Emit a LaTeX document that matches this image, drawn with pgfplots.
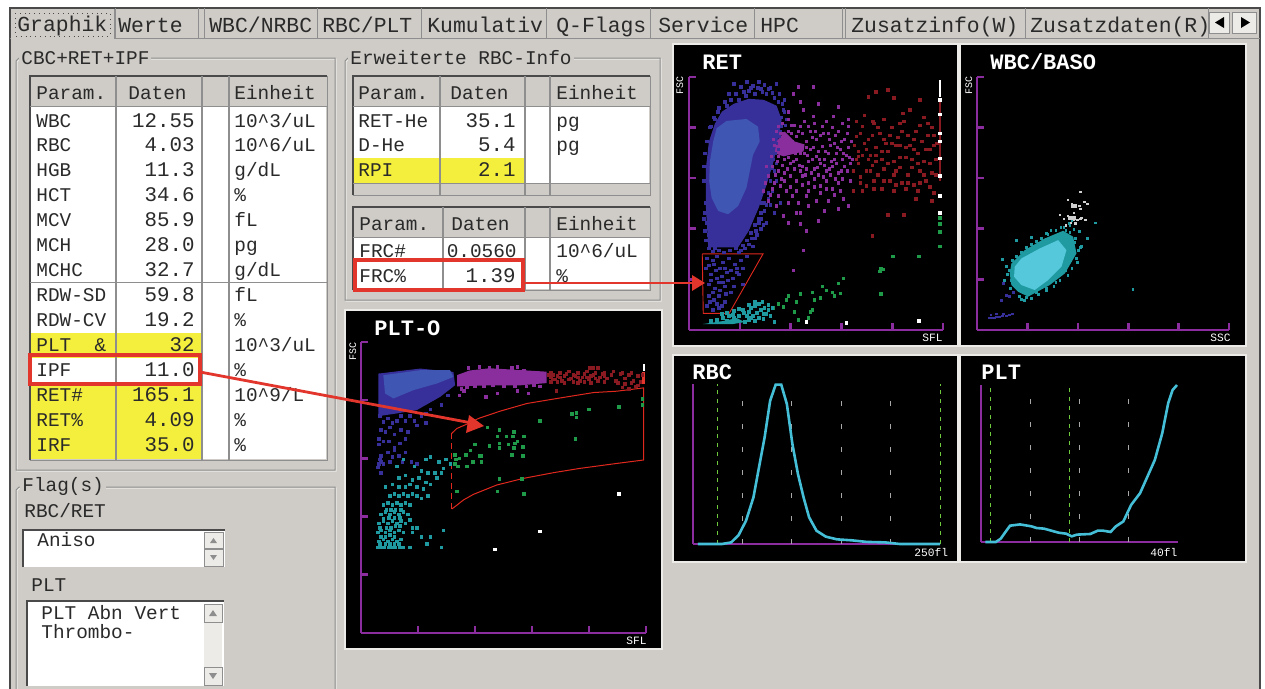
\documentclass[border=0pt]{standalone}
\usepackage{pgfplots}
\pgfplotsset{compat=1.18}
\usepackage{fontspec}
\setmainfont{Liberation Mono}
\definecolor{bg}{HTML}{CFCCC7}
\definecolor{frame}{HTML}{8E8E8E}
\definecolor{dk}{HTML}{4A4A4A}
\definecolor{lt}{HTML}{EDEBE8}
\definecolor{yel}{HTML}{F4EE3C}
\definecolor{rd}{HTML}{E2352C}
\definecolor{gate}{HTML}{E0281E}
\definecolor{purp}{HTML}{8B2D9F}
\definecolor{bl}{HTML}{3F56B2}
\definecolor{dbl}{HTML}{38309A}
\definecolor{mag}{HTML}{8A2E9E}
\definecolor{drd}{HTML}{8A1A22}
\definecolor{teal2}{HTML}{1F9AA0}
\definecolor{cy}{HTML}{55C8DC}
\definecolor{cyl}{HTML}{45BFD8}
\definecolor{grn}{HTML}{1F9A48}
\definecolor{lg}{HTML}{6FC93C}
\definecolor{dg}{HTML}{A8A8A8}
\definecolor{wg}{HTML}{D0D0D0}
\definecolor{txt}{HTML}{2A2A2A}
\newcommand\fs{\fontsize{9.7}{12}\selectfont}
\newcommand\T[3]{\node[anchor=base west,inner sep=0pt,text=txt] at (#1,#2) {\fs #3};}
\newcommand\Tt[3]{\node[anchor=base west,inner sep=0pt,text=txt] at (#1,#2) {\fontsize{10.7}{12}\selectfont #3};}
\newcommand\Tr[3]{\node[anchor=base east,inner sep=0pt,text=txt] at (#1,#2) {\fontsize{10.4}{12}\selectfont #3};}
\newcommand\W[3]{\node[anchor=base west,inner sep=0pt,text=white] at (#1,#2) {\fontsize{11}{12}\selectfont\bfseries #3};}
\newcommand\Sm[3]{\node[anchor=base west,inner sep=0pt,text=white] at (#1,#2) {\fontsize{5.6}{6}\selectfont #3};}
\newcommand\Bx[5]{\fill[#5] (#1,#2) rectangle (#3,#4);}
\newcommand\Tab[4]{\draw[frame,line width=.5pt] (#1,8) -- (#1,38) -- (#2,38) -- (#2,8);\Tt{#3}{32}{#4}}
\newcommand\Grp[5]{\draw[lt,line width=.5pt] (#1+4,#2+1) -- (#1+1,#2+4) -- (#1+1,#4+1) -- (#3+1,#4+1) -- (#3+1,#2+1) -- cycle;\draw[frame,line width=.5pt] (#1+3,#2) -- (#1,#2+3) -- (#1,#4) -- (#3,#4) -- (#3,#2) -- cycle;\node[anchor=west,inner sep=1pt,fill=bg,text=txt] at (#1+3,#2) {\fs #5};}
\newcommand\Hd[7]{%
 \Bx{#1}{#2}{#6}{#2+30}{bg}
 \draw[dk,line width=.6pt] (#1,#7) -- (#1,#2) -- (#6,#2);
 \draw[frame,line width=.5pt] (#6,#2) -- (#6,#7) -- (#1,#7);
 \draw[frame,line width=.6pt] (#3,#2) -- (#3,#7) (#4,#2) -- (#4,#7) (#5,#2) -- (#5,#7);
 \draw[frame,line width=.5pt] (#1,#2+30) -- (#6,#2+30);}
\pgfplotsset{
 root/.style={at={(0,0)},anchor=north west,scale only axis,width=632.5pt,height=344.5pt,xmin=0,xmax=1265,ymin=0,ymax=689,y dir=reverse,hide axis,clip=false},
 panel/.style={anchor=south west,scale only axis,axis lines=left,axis line style={purp,line width=1.3pt,-},
  xmin=0,xmax=255,ymin=0,ymax=255,xtick={51,102,153,204,255},ytick={51,102,153,204,255},
  xticklabels={},yticklabels={},tick style={purp,line width=1.3pt},major tick length=3.6pt,tick align=inside,clip=false},
 hist/.style={anchor=south west,scale only axis,axis lines=left,axis line style={purp,line width=1.2pt,-},
  ymin=0,ymax=100,xtick=\empty,ytick=\empty,clip=false},
 pts/.style={only marks,mark=square*,mark size=.64pt,color=#1,mark options={fill=#1,draw=#1,line width=0pt}},
 spts/.style={only marks,mark=square*,mark size=.42pt,color=#1,mark options={fill=#1,draw=#1,line width=0pt}},
 gr/.style={dg,line width=.5pt,dash pattern=on 2.5pt off 9pt},
 gn/.style={lg,line width=.4pt,dash pattern=on 2pt off 2.4pt},
}
\begin{document}
\begin{tikzpicture}
\path[use as bounding box] (0,0) rectangle (632.5pt,-344.5pt);
\begin{axis}[root]
% window
\Bx{0}{0}{1265}{689}{white}
\Bx{10}{8}{1260}{689}{bg}
\draw[dk,line width=.8pt] (10,689) -- (10,8) -- (1260,8) -- (1260,689);
% tabs
\draw[frame,line width=.5pt] (10,38) -- (1260,38);
\Tab{115}{198}{118}{Werte}
\Tab{204}{317}{209}{WBC/NRBC}
\Tab{317}{421}{322}{RBC/PLT}
\Tab{421}{546}{427}{Kumulativ}
\Tab{546}{650}{556}{Q-Flags}
\Tab{650}{754}{658}{Service}
\Tab{754}{842}{760}{HPC}
\Tab{845}{1025}{851}{Zusatzinfo(W)}
\Tab{1025}{1208}{1030}{Zusatzdaten(R)}
\Bx{11}{9}{114}{39}{bg}
\draw[dk,dotted,line width=.4pt] (15,13) rectangle (110,36);
\Tt{17}{31}{Graphik}
\draw[frame,line width=.5pt] (114,9) -- (114,38);
\Bx{1209}{12}{1229}{33}{lt}\Bx{1232}{12}{1256}{33}{lt}
\draw[frame,line width=.5pt] (1209,12) rectangle (1229,33) (1232,12) rectangle (1256,33);
\fill[black] (1224,17) -- (1224,28) -- (1215,22.5) -- cycle;
\fill[black] (1241,17) -- (1241,28) -- (1250,22.5) -- cycle;
% CBC group
\Grp{16}{58}{335}{470}{CBC+RET+IPF}
\Hd{30}{76}{116}{202}{229}{327}{460}
\Bx{31}{107}{326}{459}{white}
\Bx{31}{333}{202}{358}{yel}
\Bx{31}{383}{202}{459}{yel}
\draw[frame,line width=.6pt] (116,107) -- (116,460) (202,107) -- (202,460) (229,107) -- (229,460);
\draw[frame,line width=.5pt] (30,282) -- (327,282);
\T{36}{99}{Param.}\T{128}{99}{Daten}\T{234}{99}{Einheit}
\T{36}{127}{WBC}\Tr{195}{127}{12.55}\T{234}{127}{10\string^3/uL}
\T{36}{151}{RBC}\Tr{195}{151}{4.03}\T{234}{151}{10\string^6/uL}
\T{36}{176}{HGB}\Tr{195}{176}{11.3}\T{234}{176}{g/dL}
\T{36}{201}{HCT}\Tr{195}{201}{34.6}\T{234}{201}{\%}
\T{36}{226}{MCV}\Tr{195}{226}{85.9}\T{234}{226}{fL}
\T{36}{251}{MCH}\Tr{195}{251}{28.0}\T{234}{251}{pg}
\T{36}{276}{MCHC}\Tr{195}{276}{32.7}\T{234}{276}{g/dL}
\T{36}{301}{RDW-SD}\Tr{195}{301}{59.8}\T{234}{301}{fL}
\T{36}{326}{RDW-CV}\Tr{195}{326}{19.2}\T{234}{326}{\%}
\T{36}{351}{PLT\ \ \&}\Tr{195}{351}{32}\T{234}{351}{10\string^3/uL}
\T{36}{376}{IPF}\Tr{195}{376}{11.0}\T{234}{376}{\%}
\T{36}{401}{RET\#}\Tr{195}{401}{165.1}\T{234}{401}{10\string^9/L}
\T{36}{426}{RET\%}\Tr{195}{426}{4.09}\T{234}{426}{\%}
\T{36}{451}{IRF}\Tr{195}{451}{35.0}\T{234}{451}{\%}
% Erweiterte
\Grp{345}{58}{660}{300}{Erweiterte RBC-Info}
\Hd{353}{76}{440}{525}{550}{650}{195}
\Bx{354}{107}{649}{183}{white}
\Bx{354}{158}{525}{183}{yel}
\draw[frame,line width=.6pt] (440,107) -- (440,183) (525,107) -- (525,183) (550,107) -- (550,183);
\draw[frame,line width=.5pt] (353,183) -- (650,183);
\T{358}{99}{Param.}\T{450}{99}{Daten}\T{556}{99}{Einheit}
\T{358}{127}{RET-He}\Tr{516}{127}{35.1}\T{556}{127}{pg}
\T{358}{151}{D-He}\Tr{516}{151}{5.4}\T{556}{151}{pg}
\T{358}{176}{RPI}\Tr{516}{176}{2.1}
\Hd{353}{207}{443}{525}{550}{650}{290}
\Bx{354}{238}{649}{289}{white}
\draw[frame,line width=.6pt] (443,238) -- (443,289) (525,238) -- (525,289) (550,238) -- (550,289);
\T{359}{230}{Param.}\T{451}{230}{Daten}\T{556}{230}{Einheit}
\T{359}{257}{FRC\#}\node[anchor=base east,inner sep=0pt,text=txt] at (517,257) {\fs 0.0560};\T{556}{257}{10\string^6/uL}
\T{359}{282}{FRC\%}\Tr{516}{282}{1.39}\T{556}{282}{\%}
% Flags
\draw[lt,line width=.5pt] (336,689) -- (336,488) -- (20,488) -- (17,491) -- (17,689);
\draw[frame,line width=.5pt] (335,689) -- (335,487) -- (19,487) -- (16,490) -- (16,689);
\node[anchor=west,inner sep=1pt,fill=bg,text=txt] at (20,486) {\fs Flag(s)};
\T{24}{517}{RBC/RET}
\Bx{23}{530}{225}{567}{white}
\draw[dk,line width=.7pt] (23,567) -- (23,530) -- (225,530);
\Bx{204}{532}{223}{566}{lt}
\draw[frame,line width=.5pt] (204,532) rectangle (223,548) (204,549) rectangle (223,566);
\fill[frame] (210,543) -- (217,543) -- (213.5,538) -- cycle;
\fill[frame] (210,555) -- (217,555) -- (213.5,560) -- cycle;
\T{37}{546}{Aniso}
\T{31}{591}{PLT}
\Bx{27}{601}{224}{686}{white}
\draw[dk,line width=.7pt] (27,686) -- (27,601) -- (224,601);
\Bx{204}{604}{222}{685}{lt}
\draw[frame,line width=.5pt] (204,604) rectangle (222,622) (204,667) rectangle (222,685);
\fill[frame] (209,616) -- (217,616) -- (213,610) -- cycle;
\fill[frame] (209,673) -- (217,673) -- (213,679) -- cycle;
\T{41}{619}{PLT Abn Vert}
\T{41}{638}{Thrombo-}
% panels
\draw[lt,line width=.8pt,fill=black] (673,44) rectangle (958,346);
\draw[lt,line width=.8pt,fill=black] (960,44) rectangle (1246,346);
\draw[lt,line width=.8pt,fill=black] (345,310) rectangle (662,649);
\draw[lt,line width=.8pt,fill=black] (673,355) rectangle (958,562);
\draw[lt,line width=.8pt,fill=black] (960,355) rectangle (1246,562);
\W{702}{69}{RET}
\W{990}{69}{WBC/BASO}
\W{374}{335}{PLT-O}
\W{692}{379}{RBC}
\W{981}{379}{PLT}
\Sm{922}{341}{SFL}
\Sm{1210}{341}{SSC}
\Sm{626}{644}{SFL}
\Sm{914}{556}{250fl}
\Sm{1150}{556}{40fl}
\node[rotate=90,anchor=base east,inner sep=0pt,text=white] at (683,76) {\fontsize{5}{6}\selectfont FSC};
\node[rotate=90,anchor=base east,inner sep=0pt,text=white] at (972,76) {\fontsize{5}{6}\selectfont FSC};
\node[rotate=90,anchor=base east,inner sep=0pt,text=white] at (356,342) {\fontsize{5}{6}\selectfont FSC};
\end{axis}

% RET
\begin{axis}[panel,at={(344.5pt,-165pt)},width=127pt,height=126.5pt]
\addplot[fill=dbl,draw=none] coordinates {(19.3,83.3)(17,123.3)(17,163.3)(20,190)(26,208)(33,220)(45,228)(60,233)(75,232)(88,226)(93,212)(90,193)(85,170)(78,146.7)(70,123.3)(60,100)(49.3,83.3)} --cycle;
\addplot[fill=bl,draw=none] coordinates {(24.3,190)(27.7,203.3)(37.7,210.7)(57.7,212.7)(69.3,205)(71,190)(64.3,176.7)(61,160)(57.7,143.3)(49.3,125)(39.3,116.7)(29.3,120)(22.7,133.3)(20.3,150)(21,170)} --cycle;
\addplot[fill=mag,draw=none] coordinates {(86,178)(88,190)(96,200)(106,190)(116,187)(115,180)(95,175)} --cycle;
\addplot[fill=teal2,draw=none] coordinates {(14,6)(34,9)(48,12)(56,8)(44,6)} --cycle;
% blue sparse
\addplot[pts=dbl] coordinates {(45,248)(52,245)(58,250)(64,246)(70,250)(76,247)(82,244)(88,248)(60,241)(72,243)(91,238)(96,232)(95,222)(98,212)(40,238)(36,230)(30,224)(26,212)(22,205)(92,200)(90,182)(88,168)(86,160)(82,150)(80,138)(76,128)(72,118)(70,112)(66,106)(62,98)(58,90)(54,85)(18,108)(16,118)(20,96)(22,88)(26,82)(32,88)(38,85)(44,90)(50,78)(18,72)(24,70)(28,74)(34,68)(40,72)(46,66)(52,70)(58,74)(17,62)(22,56)(27,60)(33,54)(38,58)(44,52)(50,56)(20,46)(26,42)(30,48)(36,44)(42,38)(20,34)(25,30)(30,34)(36,28)(18,24)(24,20)(30,22)(72,102)(64,84)(66,92)(82,126)(86,118)(92,128)(78,108)(48,62)(54,46)(38,226)(42,232)(47,238)(50,232)(55,240)(57,236)(62,244)(66,238)(69,244)(74,240)(78,238)(80,243)(84,239)(86,234)(90,230)(94,228)(96,220)(93,214)(97,206)(93,205)(91,195)(88,188)(87,178)(85,172)(84,163)(17,128)(15,112)(16,100)(17,90)(20,82)(24,79)(30,80)(35,78)(41,80)(47,82)(52,80)(56,82)(60,86)(63,92)(67,100)(70,108)(73,112)(76,120)(78,126)(73,128)(15,150)(15,165)(16,178)(18,190)(21,204)(25,214)(29,220)(20,65)(25,66)(31,62)(36,62)(42,60)(48,58)(54,62)(22,50)(28,52)(34,48)(39,50)(45,44)(24,38)(31,40)(37,36)(21,28)(28,26)(33,24)(80,132)(84,140)(88,150)(75,106)(68,96)};
% magenta
\addplot[pts=mag] coordinates {(90,205)(95,198)(100,212)(108,195)(112,205)(118,190)(122,200)(128,192)(134,205)(140,198)(146,188)(150,200)(156,192)(160,205)(92,190)(98,185)(104,180)(110,186)(116,178)(122,182)(128,175)(134,185)(140,178)(146,172)(152,182)(158,176)(162,168)(90,175)(96,172)(102,168)(108,172)(114,165)(120,170)(126,162)(132,168)(138,160)(144,165)(150,158)(156,165)(84,165)(90,160)(96,158)(102,155)(108,150)(114,155)(120,148)(126,152)(132,145)(138,150)(144,142)(150,148)(80,155)(86,148)(92,145)(98,140)(104,135)(110,128)(118,135)(128,130)(140,130)(155,132)(75,140)(80,130)(88,125)(95,115)(100,108)(112,118)(130,110)(160,125)(105,238)(112,230)(110,245)(125,245)(130,228)(100,220)(115,222)(125,215)(145,215)(150,225)(160,212)(100,200)(106,206)(114,198)(126,208)(132,196)(138,210)(144,204)(154,208)(104,190)(112,178)(118,184)(124,194)(130,180)(136,172)(142,186)(148,178)(154,172)(160,184)(94,166)(100,174)(106,162)(112,160)(118,162)(124,172)(130,156)(136,166)(142,156)(148,168)(154,152)(105,60)(115,80)(112,107)(118,100)(88,200)(94,208)(103,206)(110,200)(116,210)(120,205)(127,200)(135,198)(141,192)(147,196)(153,190)(159,198)(163,190)(86,186)(89,170)(95,180)(101,186)(107,178)(113,186)(119,176)(125,184)(131,172)(137,180)(143,170)(149,184)(155,178)(161,174)(87,156)(93,152)(99,162)(105,170)(111,166)(117,156)(123,158)(129,164)(135,154)(141,162)(147,152)(153,160)(159,160)(164,172)(84,142)(90,135)(96,150)(102,144)(108,140)(114,146)(120,140)(126,144)(132,138)(138,142)(146,136)(152,140)(162,150)(77,148)(82,136)(100,128)(108,118)(120,125)(136,120)(150,122)(78,165)(83,175)(85,192)(92,198)(97,192)(103,198)};
% red
\addplot[pts=drd] coordinates {(168,195)(174,205)(180,192)(186,208)(192,198)(198,188)(204,204)(210,194)(216,210)(222,186)(228,200)(234,190)(240,208)(246,196)(170,180)(176,188)(182,176)(188,184)(194,172)(200,180)(206,170)(212,186)(218,174)(224,164)(230,178)(236,170)(242,182)(248,172)(170,168)(178,160)(184,166)(190,156)(196,162)(202,150)(208,160)(214,148)(220,156)(226,146)(232,160)(238,150)(244,158)(172,148)(178,145)(186,150)(194,142)(206,140)(218,142)(230,140)(246,138)(165,140)(180,235)(188,240)(200,242)(206,234)(232,232)(215,218)(222,222)(236,214)(196,212)(176,216)(170,175)(180,172)(204,188)(212,174)(226,192)(240,196)(246,186)(200,116)(216,116)(184,95)(165,160)(172,154)(188,170)(166,186)(172,198)(178,182)(184,196)(190,204)(196,192)(202,196)(208,186)(214,200)(220,196)(226,182)(232,206)(238,182)(244,204)(249,188)(168,172)(174,176)(182,160)(188,176)(194,180)(200,168)(206,156)(212,164)(218,184)(224,172)(230,168)(236,156)(242,168)(248,156)(174,140)(186,142)(196,150)(208,146)(220,148)(232,148)(242,144)(228,132)(244,130)(185,210)(168,210)(212,208)};
% green
\addplot[pts=grn] coordinates {(85,22)(90,26)(95,23)(98,30)(100,34)(108,28)(112,36)(106,18)(122,18)(126,30)(124,38)(132,32)(138,40)(146,34)(124,20)(120,12)(110,10)(134,44)(144,38)(150,47)(152,37)(155,52)(193,62)(192,59)(195,61)(193,36)(205,74)(231,74)(252,113)(252,107)(252,99)(252,84)};
\addplot[pts=teal2] coordinates {(45,19)(50,21)(55,17)(60,18)(62,22)(66,24)(68,17)(72,20)(76,22)(80,20)(78,16)(70,12)(64,14)(60,10)(66,9)(75,11)(82,14)(86,8)(22,9)(28,10)(34,12)(40,14)(45,12)(50,14)(54,20)(58,14)(62,12)(56,8)(48,9)(38,9)(33,16)(38,17)(44,15)(60,25)(66,28)(70,26)(74,28)(80,25)(84,22)(75,16)};
\addplot[pts=white] coordinates {(231,9)(158,7)(118,8)};
\addplot[drd,line width=.9pt] coordinates {(252,150)(252,232)};
\addplot[white,line width=1.1pt] coordinates {(252,235)(252,252)};
\addplot[pts=white] coordinates {(252,232)(252,217)(252,198)(252,190)(252,173)(252,155)(252,135)(252,118)};
\addplot[gate,line width=.45pt] coordinates {(13.3,76.7)(74.3,76.7)(40.3,16.7)(14.3,16.7)(13.3,76.7)};
\end{axis}

% WBC/BASO
\begin{axis}[panel,at={(488.5pt,-165pt)},width=126pt,height=126.5pt]
\addplot[fill=teal2,draw=none] coordinates {(33.1,57)(34.8,67.1)(48.3,80.5)(68.6,92.3)(87.2,100)(97.3,94)(100.7,77.2)(88.9,57)(73.6,45.3)(51.7,33.6)(41.6,38.6)(34.8,45.3)} --cycle;
\addplot[fill=cy,draw=none] coordinates {(38.2,63.8)(44.9,72.1)(63.5,82.2)(82.1,90.6)(90.5,80.5)(85.5,63.8)(72,50.3)(58.4,40.3)(44.9,45.3)(37.5,53.7)} --cycle;
\addplot[spts=teal2] coordinates {(26,71)(30,64)(28,50)(40,90)(55,93)(70,97)(75,100)(85,103)(90,100)(94,105)(98,101)(104,99)(106,84)(105,83)(112,92)(120,108)(96,110)(100,108)(93,107)(31,56)(45,31)(50,33)(60,38)(70,42)(80,48)(90,60)(95,70)(101,72)(99,88)(158,41)(33,60)(35,50)(36,70)(40,74)(45,78)(50,83)(55,86)(60,89)(65,92)(72,96)(80,100)(88,103)(94,98)(100,92)(103,80)(102,68)(96,62)(92,55)(84,50)(78,44)(70,40)(62,36)(55,32)(48,30)(43,34)(37,38)(34,42)};
\addplot[spts=wg] coordinates {(92,131)(96,127)(100,124)(98,118)(105,122)(109,129)(106,113)(92,115)(88,112)(84,116)(98,111)(102,111)(110,111)(105,112)(90,105)(95,108)(100,107)(104,125)(112,127)(105,139)};
\addplot[pts=wg] coordinates {(97,125)(99,125)(96,113)(98,113)(94,113)};
\addplot[spts=dbl] coordinates {(12,12)(15,12)(18,12)(20,13)(23,13)(26,14)(14,15)(20,16)(27,16)(30,14)(33,15)(36,16)(30,35)(33,34)(25,30)(37,38)(27,47)};
\end{axis}

% PLT-O
\begin{axis}[panel,at={(180.5pt,-316.5pt)},width=142.5pt,height=145.5pt]
\addplot[fill=dbl,draw=none] coordinates {(15.5,227.3)(52.9,231.7)(82.7,228.8)(84.2,217.1)(70.8,206.9)(49.9,195.3)(32,192.4)(15.5,190)} --cycle;
\addplot[fill=bl,draw=none] coordinates {(20,225.9)(52.9,230.3)(79.7,230.3)(82.7,224.4)(67.8,218.6)(46.9,212.8)(29,205.5)(21.5,209.9)} --cycle;
\addplot[fill=mag,draw=none] coordinates {(86,216)(86,226)(97,230)(115,232)(166,229)(166,219)(142,217)(112,217)} --cycle;
\addplot[pts=drd] coordinates {(168,226)(172,222)(176,225)(180,221)(184,227)(188,223)(192,225)(196,221)(200,227)(204,222)(208,226)(212,221)(216,227)(220,223)(224,226)(228,221)(232,227)(236,223)(240,226)(244,221)(248,225)(170,228)(178,228)(186,229)(194,228)(202,229)(210,228)(218,228)(226,229)(234,228)(242,228)(170,220)(182,219)(194,219)(206,219)(218,220)(230,219)(242,219)(234,215)(236,218)(246,216)(205,232)(208,232)(212,232)(175,212)(170,224)(174,222)(178,224)(182,225)(186,222)(190,226)(194,224)(198,224)(202,224)(206,225)(210,223)(214,224)(218,225)(172,226)(176,220)(190,220)(200,220)(250,220)(252,226)(248,217)(240,214)};
\addplot[pts=mag] coordinates {(96,232)(106,233)(115,232)(122,233)(135,232)(140,233)(146,230)(90,214)(92,212)(88,208)(95,215)(102,216)(110,216)(118,217)(128,216)(138,216)(148,216)(155,217)(160,216)(150,210)(140,212)(112,207)(122,210)};
\addplot[pts=dbl] coordinates {(17,190)(20,185)(24,188)(28,184)(32,186)(36,190)(40,186)(44,190)(48,186)(54,190)(58,192)(62,196)(72,200)(78,208)(18,178)(22,176)(26,180)(30,174)(36,178)(42,176)(50,182)(58,184)(16,165)(20,168)(25,168)(30,162)(35,166)(40,170)(16,170)(18,155)(24,158)(28,154)(34,155)(40,158)(15,145)(20,148)(26,150)(18,140)(30,160)(18,150)(37,150)(16,148)(17,152)(45,150)(50,148)};
\addplot[pts=teal2] coordinates {(15,75)(18,75)(21,75)(25,75)(28,75)(31,75)(35,75)(16,80)(20,82)(24,80)(28,82)(32,80)(36,82)(15,88)(18,90)(22,88)(26,90)(30,88)(34,90)(38,88)(16,96)(20,98)(24,96)(28,98)(32,96)(36,98)(40,96)(18,104)(22,106)(26,104)(30,106)(34,104)(38,106)(42,104)(44,99)(46,92)(20,112)(24,114)(28,112)(32,114)(36,112)(40,114)(44,112)(26,120)(30,122)(34,120)(38,122)(42,120)(46,122)(50,120)(54,118)(22,128)(28,130)(34,128)(40,128)(44,130)(50,128)(56,126)(60,120)(34,136)(40,138)(46,134)(52,136)(58,132)(62,130)(68,136)(72,140)(66,140)(60,140)(54,142)(48,146)(32,146)(38,152)(58,152)(62,154)(70,150)(76,152)(74,144)(80,148)(62,84)(74,90)(46,88)(50,92)(54,84)(38,75)(44,75)(72,75)(59,78)(17,78)(22,78)(26,78)(30,78)(34,78)(18,84)(22,84)(26,86)(30,84)(17,92)(23,92)(27,92)(31,94)(35,94)(20,100)(25,101)(30,101)(35,101)(23,108)(27,108)(31,108)(36,108)};
\addplot[pts=grn] coordinates {(84,156)(85,152)(88,153)(84,148)(87,146)(94,156)(98,160)(102,165)(100,150)(95,146)(106,155)(108,150)(108,155)(115,164)(124,162)(124,166)(122,172)(124,178)(130,172)(132,165)(136,172)(137,176)(138,166)(137,162)(140,168)(146,172)(145,163)(145,155)(144,135)(146,122)(122,124)(86,124)(113,180)(160,186)(189,192)(193,193)(193,189)(192,170)(204,196)(231,198)(252,205)(252,200)(135,156)(124,135)};
\addplot[pts=white] coordinates {(160,89)(120,73)(231,122)};
\addplot[white,line width=1pt] coordinates {(253,230)(253,236)};
\addplot[rd,line width=1.3pt] coordinates {(253,218)(253,229)};
\addplot[gate,line width=.5pt] coordinates {(81.2,174.9)(85.7,179.2)(96.1,183.6)(105.1,188)(124.5,194.4)(148.4,201.1)(175.3,205.5)(208.1,210.7)(229,211.9)(252.9,214.8)(252.9,151.6)(229,148.6)(196.2,144.3)(172.3,140.5)(145.4,135.5)(121.5,129.7)(100.6,121.5)(91.7,116.6)(84.2,110.8)(81.2,108.7)};
\addplot[gate,line width=.5pt,densely dashed] coordinates {(81.2,108.7)(81.2,174.9)};
\end{axis}

% RBC histogram
\begin{axis}[hist,at={(346.5pt,-272pt)},width=123.5pt,height=80pt,xmin=0,xmax=250]
\addplot[gr] coordinates {(50,0)(50,100)};
\addplot[gr] coordinates {(100,0)(100,100)};
\addplot[gr] coordinates {(150,0)(150,100)};
\addplot[gr] coordinates {(200,0)(200,100)};
\addplot[gn] coordinates {(25,0)(25,100)};
\addplot[gn] coordinates {(250,0)(250,100)};
\addplot[cyl,line width=1.3pt] coordinates {(4.9,0)(29.3,0)(38.7,1)(46.2,5.6)(53.7,14.6)(61.2,29.2)(66.8,47.9)(72.5,66.7)(78.1,89.6)(83.7,99.6)(89.3,99.6)(95,87.5)(100.6,62.5)(106.2,43.8)(111.9,29.2)(117.5,16.7)(125,8.3)(134.4,4.6)(145.7,2.9)(160.7,2.3)(175.7,1.3)(194.5,1)(209.5,0)(250,0)};
\end{axis}

% PLT histogram
\begin{axis}[hist,at={(490.5pt,-271pt)},width=98.5pt,height=78.5pt,xmin=0,xmax=40]
\addplot[gr] coordinates {(10.15,0)(10.15,100)};
\addplot[gr] coordinates {(20,0)(20,100)};
\addplot[gr] coordinates {(29.9,0)(29.9,100)};
\addplot[gn] coordinates {(2,0)(2,100)};
\addplot[gn] coordinates {(18,0)(18,100)};
\addplot[cyl,line width=1.3pt] coordinates {(0.9,0)(3,0)(4,2.1)(4.9,6.1)(5.9,10.4)(7.9,11.2)(10.2,10)(11.3,8.9)(12.8,8.5)(14.3,7.2)(15.8,5.9)(17.3,5.3)(18.4,3.6)(19.5,4.7)(22.2,5.1)(23.7,7.2)(24.8,7.2)(26.3,6.4)(27.4,10)(28.9,13.1)(30.5,23.7)(32.3,31.1)(33.8,41.7)(35.3,52.3)(36.8,69.3)(38,88.3)(38.9,96.8)(39.8,100)};
\end{axis}

% overlay
\begin{axis}[root]
\draw[rd,line width=2pt] (30,355) rectangle (200,384);
\draw[rd,line width=2pt] (355,260) rectangle (523,290);
\draw[rd,line width=1.4pt] (200,372) -- (472,423);
\fill[rd] (484,426) -- (469,415) -- (466,433) -- cycle;
\draw[rd,line width=1.4pt] (523,283) -- (694,283);
\fill[rd] (705,283) -- (692,275) -- (692,291) -- cycle;
\end{axis}
\end{tikzpicture}
\end{document}
